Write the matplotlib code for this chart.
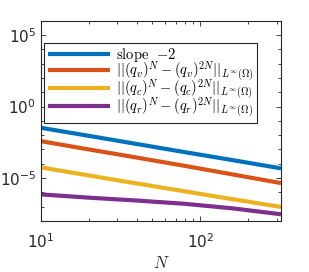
import matplotlib
matplotlib.use("Agg")
import matplotlib.pyplot as plt
import matplotlib.ticker as mticker
import numpy as np

# Values (log10 of error)
N = [10, 20, 40, 80, 160, 320]
slope_log = [-1.485, -2.05, -2.62, -3.19, -3.75, -4.32]
err_v_log = [-2.42, -3.00, -3.57, -4.15, -4.75, -5.35]
err_c_log = [-4.25, -4.82, -5.38, -5.93, -6.48, -7.02]
err_r_log = [-6.14, -6.37, -6.57, -6.80, -7.12, -7.53]

labels = [
    r"$\mathrm{slope}\ \ {-2}$",
    r"$||(q_v)^N - (q_v)^{2N}||_{L^\infty(\Omega)}$",
    r"$||(q_c)^N - (q_c)^{2N}||_{L^\infty(\Omega)}$",
    r"$||(q_r)^N - (q_r)^{2N}||_{L^\infty(\Omega)}$",
]
colors = ["#0072BD", "#D95319", "#EDB120", "#7E2F8E"]

plt.rcParams["mathtext.fontset"] = "cm"

fig = plt.figure(figsize=(3.09, 2.72), dpi=100)
ax = fig.add_axes([0.1327, 0.1875, 0.7767, 0.7364])

series = [slope_log, err_v_log, err_c_log, err_r_log]
for vals, lab, col in zip(series, labels, colors):
    ax.plot(N, 10.0 ** np.array(vals), color=col, lw=3, label=lab, solid_capstyle="butt")

ax.set_xscale("log")
ax.set_yscale("log")
ax.set_xlim(10, 320)
ax.set_ylim(1e-8, 1e6)

ax.yaxis.set_major_locator(mticker.FixedLocator([1e-5, 1e0, 1e5]))
ax.yaxis.set_minor_locator(mticker.LogLocator(base=10, subs=[1.0], numticks=30))
ax.yaxis.set_minor_formatter(mticker.NullFormatter())
ax.xaxis.set_major_locator(mticker.FixedLocator([1e1, 1e2]))

ax.tick_params(which="both", direction="in", top=True, right=True, labelsize=11,
               colors="#262626", width=0.6)
ax.tick_params(which="major", length=3.5)
ax.tick_params(which="minor", length=2)
ax.tick_params(axis="x", pad=8)
for s in ax.spines.values():
    s.set_linewidth(0.8)
    s.set_color("#262626")

ax.set_xlabel(r"$N$", fontsize=12, color="#262626", labelpad=2)

leg = ax.legend(loc="upper left", bbox_to_anchor=(0.0, 0.905), fontsize=10.5,
                handlelength=4.3, fancybox=False, framealpha=1,
                edgecolor="#262626", borderpad=0.25, labelspacing=-0.38,
                handletextpad=0.4, borderaxespad=0.2)
leg.get_frame().set_linewidth(0.8)

fig.savefig("out.png", dpi=100)
